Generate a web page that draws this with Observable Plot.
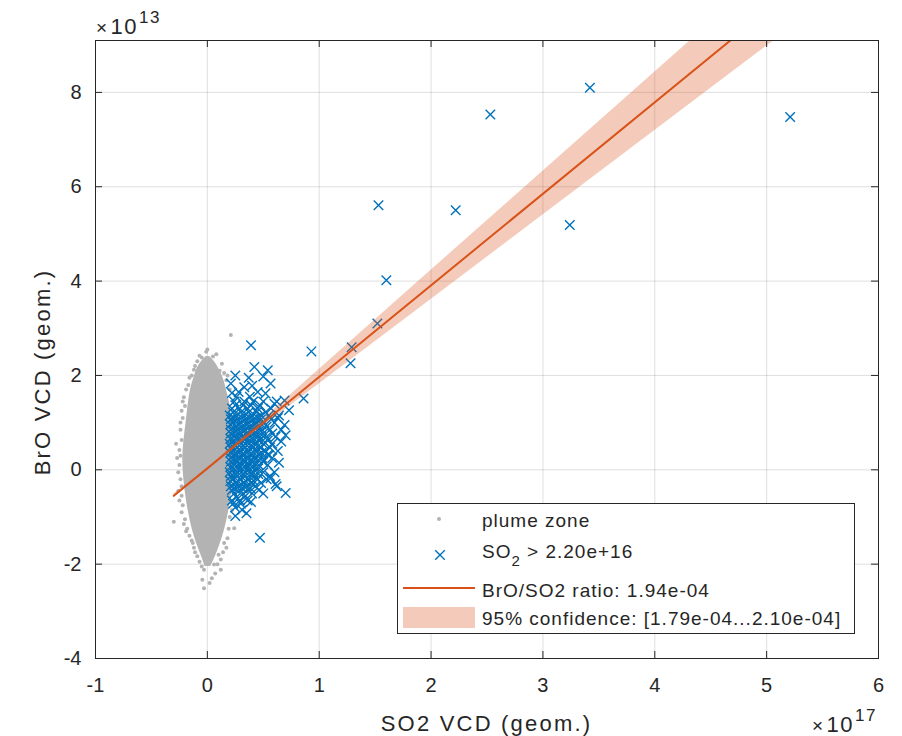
<!DOCTYPE html>
<html><head><meta charset="utf-8">
<script src="https://cdn.jsdelivr.net/npm/d3@7"></script>
<script src="https://cdn.jsdelivr.net/npm/@observablehq/plot@0.6"></script>
<style>
body{margin:0;background:#fff;}
svg{font-family:"Liberation Sans",Arial,Helvetica,sans-serif;}
</style>
</head><body><div id="chart"></div>
<script>
// ---- axes (x in 1e17, y in 1e13) ----
const xTicks = [-1,0,1,2,3,4,5,6];
const xTickLabels = ["-1","0","1","2","3","4","5","6"];
const yTicks = [-4,-2,0,2,4,6,8];
const yTickLabels = ["-4","-2","0","2","4","6","8"];
const xDomain = [-1, 6];
const yDomain = [-4, 9.1];
const xExponent = "17";
const yExponent = "13";
const xLabel = "SO2 VCD (geom.)";
const yLabel = "BrO VCD (geom.)";

// ---- plume zone: dense core outline (per row) ----
const cloudY  = [-2.05,-1.85,-1.60,-1.30,-1.00,-0.60,-0.20,0.20,0.60,1.00,1.40,1.70,1.95,2.15,2.30,2.40];
const cloudX1 = [-0.02,-0.05,-0.09,-0.13,-0.16,-0.19,-0.21,-0.22,-0.21,-0.19,-0.17,-0.15,-0.12,-0.09,-0.05,-0.01];
const cloudX2 = [0.03,0.07,0.11,0.15,0.18,0.21,0.22,0.23,0.23,0.22,0.20,0.17,0.14,0.10,0.06,0.02];
// ---- plume zone: scattered points ----
const grayPoints = [
 [0.21,2.86],[-0.01,2.50],[-0.12,2.12],[-0.05,2.38],[0.05,2.40],[0.11,2.10],[-0.21,1.54],[-0.23,0.63],[-0.25,0.42],
 [-0.03,-2.12],[-0.045,-2.33],[-0.03,-2.51],[0.12,-2.12],[-0.30,-1.10],[0.24,-1.24],[0.06,-2.01],[-0.09,-1.83],
 [-0.22,-0.75],[-0.24,-0.20],[-0.25,0.10],[-0.22,1.10],[-0.17,1.80],[0.13,2.25],[-0.09,2.30],[0.02,-2.40],
 [0.10,-1.80],[-0.14,-1.50],[0.18,-1.45],[0.20,-1.00],[-0.18,-1.25],[0.00,2.55],[-0.26,-0.45],[-0.24,0.85],
 [0.17,1.90],[-0.20,1.35],[-0.23,-0.55],[-0.12,-1.65],[-0.14,2.00],[0.04,-2.30],[-0.05,-2.05],[0.12,-1.90],
 [-0.11,2.20],[-0.27,0.25],[-0.23,1.25],[0.17,-1.65],[-0.20,-1.05],[-0.26,-0.05],[-0.19,1.70],[0.08,2.45],
 [-0.07,2.42],[0.15,2.05],[-0.16,-1.40],[0.15,-1.55],[-0.11,-1.75],[0.07,-2.20],[-0.28,0.55],[-0.23,-0.90],
 [-0.24,1.00],[-0.22,1.45],[-0.25,-0.65],[-0.21,-1.15],[-0.16,1.95],[-0.24,0.30],[-0.23,-0.35],[-0.19,-1.30],
 [-0.13,-1.55],[-0.07,-1.95],[0.09,-2.00],[0.14,-1.75],[0.19,-1.25],[0.22,-0.85],[0.20,1.70],[0.18,2.00]
];

// ---- SO2 > 2.20e+16 points ----
const blueOutliers = [
 [3.42,8.10],[2.53,7.53],[5.21,7.48],[1.53,5.61],[2.22,5.50],[3.24,5.19],[1.60,4.02],[1.52,3.10],[1.29,2.60],[1.28,2.26],
 [0.93,2.51],[0.39,2.64],[0.86,1.51],[0.69,1.47],[0.73,1.26],[0.69,0.95],[0.70,0.73],[0.70,-0.49],[0.47,-1.44],
 [0.42,2.18],[0.54,2.11],[0.21,1.83],[0.37,1.95],[0.565,1.83],[0.22,1.63],[0.55,0.31],[0.565,-0.18],[0.39,-0.68],[0.31,-0.85],
 [0.28,1.65],[0.45,1.65],[0.52,1.62],[0.33,1.75],[0.40,1.78],[0.60,1.40],[0.25,2.00],[0.50,1.98],[0.38,1.55],[0.26,1.55],
 [0.63,1.10],[0.66,0.60],[0.64,0.15],[0.61,-0.30],[0.25,-0.98],[0.35,-0.92]
];
const blueCoreRows = [
 {y: 1.45, x: [0.24,0.33,0.41,0.50,0.62]},
 {y: 1.37, x: [0.25,0.32,0.39,0.47]},
 {y: 1.30, x: [0.22,0.29,0.36,0.45,0.57]},
 {y: 1.22, x: [0.23,0.30,0.37,0.44,0.52]},
 {y: 1.15, x: [0.20,0.26,0.33,0.40,0.48,0.55,0.64]},
 {y: 1.07, x: [0.21,0.27,0.34,0.41,0.48,0.57]},
 {y: 1.00, x: [0.23,0.30,0.37,0.44,0.51,0.60]},
 {y: 0.92, x: [0.25,0.31,0.38,0.45,0.53]},
 {y: 0.85, x: [0.21,0.27,0.34,0.41,0.49,0.56,0.66]},
 {y: 0.77, x: [0.21,0.28,0.35,0.42,0.50,0.58]},
 {y: 0.70, x: [0.24,0.31,0.38,0.45,0.53,0.61]},
 {y: 0.62, x: [0.24,0.31,0.38,0.46,0.54]},
 {y: 0.55, x: [0.20,0.27,0.34,0.42,0.50,0.58]},
 {y: 0.47, x: [0.21,0.27,0.34,0.41,0.48,0.56]},
 {y: 0.40, x: [0.23,0.30,0.37,0.45,0.52,0.63]},
 {y: 0.32, x: [0.24,0.31,0.38,0.46,0.54]},
 {y: 0.25, x: [0.21,0.28,0.35,0.42,0.49,0.58]},
 {y: 0.17, x: [0.21,0.27,0.34,0.41,0.50]},
 {y: 0.10, x: [0.24,0.31,0.38,0.46,0.54]},
 {y: 0.02, x: [0.24,0.31,0.38,0.45]},
 {y: -0.05, x: [0.20,0.27,0.34,0.41,0.50,0.60]},
 {y: -0.13, x: [0.21,0.27,0.34,0.42,0.56]},
 {y: -0.20, x: [0.23,0.30,0.37,0.45,0.53]},
 {y: -0.28, x: [0.25,0.32,0.39,0.48]},
 {y: -0.35, x: [0.21,0.28,0.35,0.43,0.62]},
 {y: -0.43, x: [0.22,0.29,0.36,0.46]},
 {y: -0.50, x: [0.24,0.32,0.40,0.50]},
 {y: -0.58, x: [0.26,0.33]},
 {y: -0.65, x: [0.22,0.29,0.36]},
 {y: -0.72, x: [0.23,0.30]},
 {y: -0.80, x: [0.25]},
 // densest part of the cluster
 {y: 1.11, x: [0.235,0.305,0.375,0.445]},
 {y: 0.96, x: [0.205,0.275,0.345,0.415,0.485]},
 {y: 0.81, x: [0.245,0.315,0.385,0.455]},
 {y: 0.66, x: [0.205,0.275,0.345,0.415,0.485]},
 {y: 0.51, x: [0.245,0.315,0.385,0.455]},
 {y: 0.36, x: [0.205,0.275,0.345,0.415,0.485]},
 {y: 0.21, x: [0.245,0.315,0.385,0.455]},
 {y: 0.06, x: [0.205,0.275,0.345,0.415]},
 {y: -0.09, x: [0.245,0.315,0.385,0.455]},
 {y: -0.24, x: [0.205,0.275,0.345,0.415]},
 {y: -0.39, x: [0.245,0.315,0.385]}
];

// ---- fit ----
const ratio = 1.94e-4;
const ratioLow = 1.79e-4;
const ratioHigh = 2.10e-4;
const interceptY = 0.03;            // in 1e13
const fitXRange = [-0.30, 0, 5.21]; // in 1e17
const unitFactor = 1e17 / 1e13;

const legendLabels = ["plume zone", "SO", "2", " > 2.20e+16", "BrO/SO2 ratio: 1.94e-04", "95% confidence: [1.79e-04...2.10e-04]"];

// ---- build tables ----
const cloud = cloudY.map((y,i)=>({y, x1: cloudX1[i], x2: cloudX2[i]}));
const gray = grayPoints.map(([x,y])=>({x, y}));
const blue = blueOutliers.map(([x,y])=>({x, y}))
  .concat(blueCoreRows.flatMap(r => r.x.map(x => ({x, y: r.y}))));
const fit = fitXRange.map(x=>{
  const a = ratioLow*unitFactor*x + interceptY, b = ratioHigh*unitFactor*x + interceptY;
  return {x, y: ratio*unitFactor*x + interceptY, lo: Math.min(a,b), hi: Math.max(a,b)};
});

const W=902, H=736, mL=95, mR=24, mT=40, mB=78;
const ink = "#262626";
const tickLenY = 7*(yDomain[1]-yDomain[0])/(H-mT-mB);
const tickLenX = 7*(xDomain[1]-xDomain[0])/(W-mL-mR);

const plot = Plot.plot({
  width: W, height: H,
  marginLeft: mL, marginRight: mR, marginTop: mT, marginBottom: mB,
  x: {domain: xDomain},
  y: {domain: yDomain},
  style: {fontFamily: '"Liberation Sans", Arial, sans-serif', fontSize: "20px", color: ink, background: "#fff"},
  marks: [
    Plot.gridX(xTicks, {stroke: ink, strokeOpacity: 0.15, strokeWidth: 1}),
    Plot.gridY(yTicks, {stroke: ink, strokeOpacity: 0.15, strokeWidth: 1}),
    Plot.areaX(cloud, {y: "y", x1: "x1", x2: "x2", fill: "#b3b3b3", curve: "catmull-rom"}),
    Plot.dot(gray, {x: "x", y: "y", r: 2, fill: "#b3b3b3"}),
    Plot.dot(blue, {x: "x", y: "y", symbol: "times", r: 4.4, stroke: "#0072BD", strokeWidth: 1.4}),
    Plot.areaY(fit, {x: "x", y1: "lo", y2: "hi", fill: "#D95319", fillOpacity: 0.3, clip: true}),
    Plot.line(fit, {x: "x", y: "y", stroke: "#D95319", strokeWidth: 2, clip: true}),
    // inward ticks on all four sides
    Plot.ruleX(xTicks, {x: d=>d, y1: yDomain[0], y2: yDomain[0]+tickLenY, stroke: ink}),
    Plot.ruleX(xTicks, {x: d=>d, y1: yDomain[1], y2: yDomain[1]-tickLenY, stroke: ink}),
    Plot.ruleY(yTicks, {y: d=>d, x1: xDomain[0], x2: xDomain[0]+tickLenX, stroke: ink}),
    Plot.ruleY(yTicks, {y: d=>d, x1: xDomain[1], x2: xDomain[1]-tickLenX, stroke: ink}),
    Plot.frame({stroke: ink, strokeWidth: 1}),
    Plot.axisX(xTicks, {tickSize: 0, tickPadding: 19, label: null, tickFormat: d=>xTickLabels[xTicks.indexOf(d)], fill: ink}),
    Plot.axisY(yTicks, {tickSize: 0, tickPadding: 14, label: null, tickFormat: d=>yTickLabels[yTicks.indexOf(d)], fill: ink})
  ]
});
document.getElementById("chart").appendChild(plot);

// ---- labels and legend ----
const svg = d3.select(plot);
const g = svg.append("g").attr("fill", ink).attr("font-family", '"Liberation Sans", Arial, sans-serif');

g.append("text").attr("x", (mL + W - mR)/2).attr("y", 731).attr("text-anchor","middle")
  .attr("font-size", 22).attr("letter-spacing", "2.2px").text(xLabel);
g.append("text").attr("transform", `translate(50,372) rotate(-90)`).attr("text-anchor","middle")
  .attr("font-size", 22).attr("letter-spacing", "2.2px").text(yLabel);

// exponents
function exponent(x, y, power) {
  const t = g.append("text").attr("x", x).attr("y", y).attr("font-size", 22).attr("text-anchor","start").attr("letter-spacing", "1.5px");
  t.append("tspan").attr("font-size", 19).text("×");
  t.append("tspan").attr("dx", 2).text("10");
  t.append("tspan").attr("font-size", 17).attr("dy", -11).attr("dx", 1).text(power);
}
exponent(96, 34, yExponent);
exponent(812, 732, xExponent);

// legend
const lg = svg.append("g").attr("font-family", '"Liberation Sans", Arial, sans-serif').attr("font-size", 19)
  .attr("fill", ink).attr("letter-spacing", "1px").attr("text-anchor", "start");
lg.append("rect").attr("x", 397.5).attr("y", 503.5).attr("width", 457).attr("height", 130).attr("fill", "#fff").attr("stroke", ink);
lg.append("circle").attr("cx", 439).attr("cy", 519).attr("r", 2).attr("fill", "#b3b3b3");
lg.append("text").attr("x", 482).attr("y", 527).text(legendLabels[0]);
lg.append("path").attr("d", d3.symbol(d3.symbolTimes, Math.PI*4.4*4.4)()).attr("transform","translate(440,555)")
  .attr("fill","none").attr("stroke","#0072BD").attr("stroke-width",1.4);
const t2 = lg.append("text").attr("x", 482).attr("y", 558);
t2.append("tspan").text(legendLabels[1]);
t2.append("tspan").attr("font-size", 15).attr("dy", 8).text(legendLabels[2]);
t2.append("tspan").attr("dy", -8).text(legendLabels[3]);
lg.append("line").attr("x1", 403).attr("x2", 475).attr("y1", 588).attr("y2", 588).attr("stroke", "#D95319").attr("stroke-width", 2);
lg.append("text").attr("x", 482).attr("y", 597).text(legendLabels[4]);
lg.append("rect").attr("x", 403).attr("y", 607).attr("width", 72).attr("height", 21).attr("fill", "#D95319").attr("fill-opacity", 0.3);
lg.append("text").attr("x", 482).attr("y", 625).text(legendLabels[5]);
</script>
</body></html>
